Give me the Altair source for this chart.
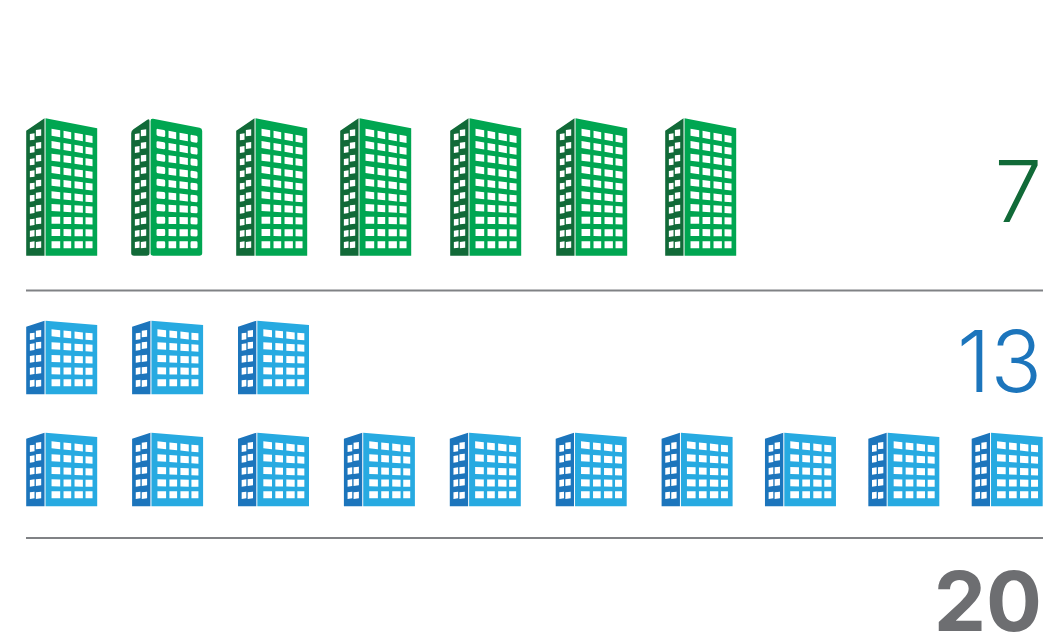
import altair as alt
import pandas as pd

# ---- data ----
row_ids = [0, 1, 2]
row_series = ["green", "blue", "blue"]
row_counts = [7, 3, 10]
total_labels = ["7", "13", "20"]
total_rows = [0, 1, 2]
separator_rows = [0, 1]
softened_green_icon = 1

GREEN_LIGHT, GREEN_DARK = "#00A651", "#116A38"
BLUE_LIGHT, BLUE_DARK = "#27AAE1", "#1C75BC"
GREY = "#6D6E71"
RULE = "#808285"

# ---- icon glyphs (drawn in zoomed px of the icon, then normalised to symbol units) ----
def poly(pts, cx, cy, k, r=0):
    def f(p):
        return f"{(p[0]-cx)/k:.4f},{(p[1]-cy)/k:.4f}"
    if not r:
        return "M" + " L".join(f(p) for p in pts) + " Z"
    out = []
    n = len(pts)
    for i, p in enumerate(pts):
        a, b = pts[i - 1], pts[(i + 1) % n]
        def toward(q):
            d = ((q[0]-p[0])**2 + (q[1]-p[1])**2) ** 0.5
            t = min(r / d, 0.45)
            return (p[0] + (q[0]-p[0]) * t, p[1] + (q[1]-p[1]) * t)
        s, e = toward(a), toward(b)
        out.append(("M" if i == 0 else "L") + f(s) + " Q" + f(p) + " " + f(e))
    return " ".join(out) + " Z"

def building(y_top_peak, y_bot, left_tl, right_tr, cols_r, rows_l, rows_r, cols_l, rows_ll, rows_lr, wh, wh_l, r=0):
    cx, cy = (34 + 247) / 2, (y_top_peak + y_bot) / 2
    k = (y_bot - y_top_peak) / 2
    light = poly([(92, y_top_peak), (247, right_tr), (247, y_bot), (92, y_bot)], cx, cy, k, r * 2)
    n = len(rows_l)
    span = cols_r[-1][0] - cols_r[0][0]
    for i in range(n):
        for c, (a, b) in enumerate(cols_r):
            ya = rows_l[i] + (rows_r[i] - rows_l[i]) * (a - cols_r[0][0]) / span
            yb = rows_l[i] + (rows_r[i] - rows_l[i]) * (b - cols_r[0][0]) / span
            # holes wind the opposite way to the outline
            light += " " + poly([(a, ya), (a, ya + wh), (b, yb + wh), (b, yb)], cx, cy, k,
                                r if c in (0, 3) else 0)
    dark = poly([(34, left_tl), (89, y_top_peak), (89, y_bot), (34, y_bot)], cx, cy, k, r * 2)
    for i in range(n):
        (a, b), (c, d) = cols_l
        dark += " " + poly([(a, rows_ll[i]), (a, rows_ll[i] + wh_l), (b, rows_ll[i] - 2 + wh_l), (b, rows_ll[i] - 2)], cx, cy, k)
        dark += " " + poly([(c, rows_lr[i]), (c, rows_lr[i] + wh_l), (d, rows_lr[i] - 2 + wh_l), (d, rows_lr[i] - 2)], cx, cy, k)
    return light, dark

COLS_R = [(110, 136), (146, 169), (179, 204), (212, 233)]
COLS_L = [(45, 59), (63, 79)]
TALL_ARGS = (
    25, 437, 62, 55, COLS_R,
    [56, 93, 131, 168, 206, 244, 282, 320, 357, 394],
    [74, 110, 145, 182, 218, 254, 288, 322, 358, 394],
    COLS_L,
    [72, 110, 147, 183, 220, 256, 292, 328, 362, 396],
    [60, 98, 136, 173, 211, 248, 286, 324, 360, 396],
    21, 19,
)
TALL_LIGHT, TALL_DARK = building(*TALL_ARGS)
SOFT_LIGHT, SOFT_DARK = building(*TALL_ARGS, r=4)
LOW_LIGHT, LOW_DARK = building(
    32, 253, 50, 45, COLS_R,
    [58, 97, 135, 172, 208],
    [68, 103, 139, 173, 208],
    COLS_L,
    [70, 102, 138, 174, 211],
    [62, 97, 136, 172, 211],
    21, 20,
)

# ---- tables ----
records = [
    {"row": r, "series": s, "col": c}
    for r, s, n in zip(row_ids, row_series, row_counts)
    for c in range(n)
]
df = pd.DataFrame(records)
green = df[df.series == "green"]
green_plain = green[green.col != softened_green_icon]
green_soft = green[green.col == softened_green_icon]
blue = df[df.series == "blue"]

NO_AXIS = None
row_scale = alt.Scale(domain=[0, 1, 2], range=[179, 349.5, 461.5], zero=False, nice=False)
x_green = alt.Scale(domain=[0, 1, 2, 3, 4, 5, 6], range=[53.7, 158.7, 263.7, 367.7, 477.7, 583.7, 692.7], zero=False, nice=False)
x_blue = alt.Scale(domain=[0, 6, 9], range=[53.7, 689.1, 999.2], zero=False, nice=False)

def icons(data, shape, colour, size, xscale):
    return alt.Chart(data).mark_point(
        shape=shape, filled=True, fill=colour, opacity=1, strokeWidth=0, size=size
    ).encode(
        x=alt.X("col:Q", scale=xscale, axis=NO_AXIS),
        y=alt.Y("row:Q", scale=row_scale, axis=NO_AXIS),
    )

TALL = (412 / 3) ** 2
LOW = (221 / 3) ** 2

layers = [
    icons(green_plain, TALL_DARK, GREEN_DARK, TALL, x_green),
    icons(green_plain, TALL_LIGHT, GREEN_LIGHT, TALL, x_green),
    icons(green_soft, SOFT_DARK, GREEN_DARK, TALL, x_green),
    icons(green_soft, SOFT_LIGHT, GREEN_LIGHT, TALL, x_green),
    icons(blue, LOW_DARK, BLUE_DARK, LOW, x_blue),
    icons(blue, LOW_LIGHT, BLUE_LIGHT, LOW, x_blue),
]

rules = alt.Chart(pd.DataFrame({"sep": separator_rows})).mark_rule(
    color=RULE, strokeWidth=2
).encode(
    y=alt.Y("sep:Q", scale=alt.Scale(domain=[0, 1], range=[282.5, 530], zero=False, nice=False), axis=NO_AXIS),
    x=alt.value(18),
    x2=alt.value(1035),
)

totals = pd.DataFrame({"label": total_labels, "row": total_rows})
text_y = alt.Scale(domain=[0, 1, 2], range=[214, 384, 623], zero=False, nice=False)
text_colour = alt.Scale(domain=total_labels, range=[GREEN_DARK, BLUE_DARK, GREY])

def total_text(data, weight, size):
    return alt.Chart(data).mark_text(
        font="Inter", fontWeight=weight, fontSize=size, align="right", baseline="alphabetic"
    ).encode(
        y=alt.Y("row:Q", scale=text_y, axis=NO_AXIS),
        x=alt.value(1034),
        text="label:N",
        color=alt.Color("label:N", scale=text_colour, legend=None),
    )

text_light = total_text(totals[totals.row < 2], 300, 85)
text_bold = total_text(totals[totals.row == 2], 700, 83)

chart = alt.layer(*layers, rules, text_light, text_bold).resolve_scale(
    x="independent", y="independent"
).properties(
    width=1035, height=633, padding=0,
    autosize=alt.AutoSizeParams(type="none"),
).configure_view(stroke=None)

chart.save("out.html", embed_options={"renderer": "svg", "actions": False})
